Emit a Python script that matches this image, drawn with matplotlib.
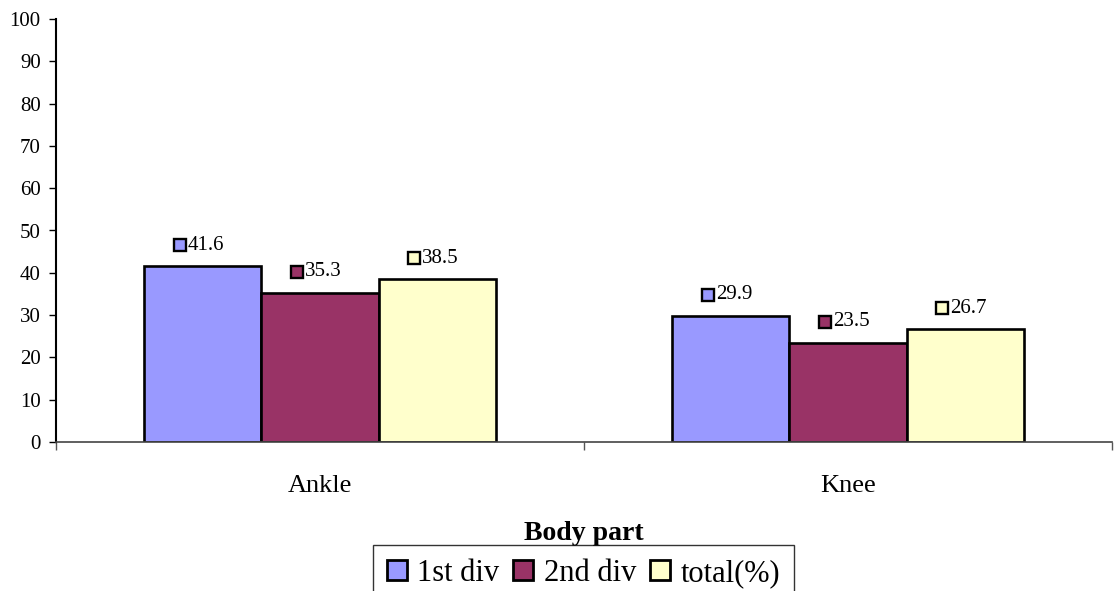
import matplotlib
matplotlib.use("Agg")
import matplotlib.pyplot as plt
import matplotlib.transforms as mtransforms
from matplotlib.patches import Rectangle
import numpy as np

categories = ["Ankle", "Knee"]
series_names = ["1st div", "2nd div", "total(%)"]
first_div = [41.6, 29.9]
second_div = [35.3, 23.5]
total_pct = [38.5, 26.7]
colors = ["#9999FF", "#993366", "#FFFFCC"]
yticks = list(range(0, 101, 10))

plt.rcParams['font.family'] = ['Liberation Serif', 'DejaVu Serif']

fig = plt.figure(figsize=(11.14, 5.91), dpi=100)
W, H = 1114, 591
ax = fig.add_axes([56 / W, 1 - 442 / H, (1112 - 56) / W, (442 - 19) / H])

x = np.arange(len(categories))
width = 0.2216
all_series = [first_div, second_div, total_pct]
for i, (vals, col, name) in enumerate(zip(all_series, colors, series_names)):
    pos = x + (i - 1) * width
    ax.bar(pos, vals, width=width, color=col, edgecolor="black", linewidth=1.9,
           label=name, zorder=2)
    for px_, v in zip(pos, vals):
        off = mtransforms.ScaledTranslation(-23 / 100, 21 / 100, fig.dpi_scale_trans)
        ax.plot([px_], [v], marker="s", markersize=8.3, markerfacecolor=col,
                markeredgecolor="black", markeredgewidth=1.7,
                transform=ax.transData + off, clip_on=False, zorder=3)
        ax.annotate(f"{v}", xy=(px_, v), xytext=(-15 * 0.72, 21 * 0.72),
                    textcoords="offset points", ha="left", va="center",
                    fontsize=15, zorder=3)

ax.set_xlim(-0.5, 1.5)
ax.set_ylim(0, 100)
ax.set_yticks(yticks)
ax.set_yticklabels([str(t) for t in yticks], fontsize=15)
ax.tick_params(axis="y", direction="out", length=5, width=1, pad=6)

ax.set_xticks(x)
ax.set_xticklabels(categories, fontsize=19)
ax.tick_params(axis="x", which="major", length=0, pad=23.5)
ax.set_xticks([-0.5, 0.5, 1.5], minor=True)
ax.tick_params(axis="x", which="minor", direction="out", length=6, width=1, color="#555555")

for s in ["top", "right"]:
    ax.spines[s].set_visible(False)
ax.spines["left"].set_linewidth(1.5)
ax.spines["bottom"].set_linewidth(1.2)
ax.spines["bottom"].set_color("#444444")

fig.text(584 / W, 1 - 533 / H, "Body part", ha="center", va="center",
         fontsize=20, fontweight="bold")

handles = [Rectangle((0, 0), 1, 1, facecolor=c, edgecolor="black", linewidth=2)
           for c in colors]
leg = fig.legend(handles, series_names, loc="upper center",
                 bbox_to_anchor=(583.5 / W, 1 - 545 / H), ncol=3, fontsize=22,
                 frameon=True, fancybox=False, edgecolor="black",
                 handlelength=0.65, handleheight=0.65, handletextpad=0.35,
                 columnspacing=0.45, borderpad=0.45, borderaxespad=0)
leg.get_frame().set_linewidth(1.0)

fig.savefig("out.png", dpi=100)
